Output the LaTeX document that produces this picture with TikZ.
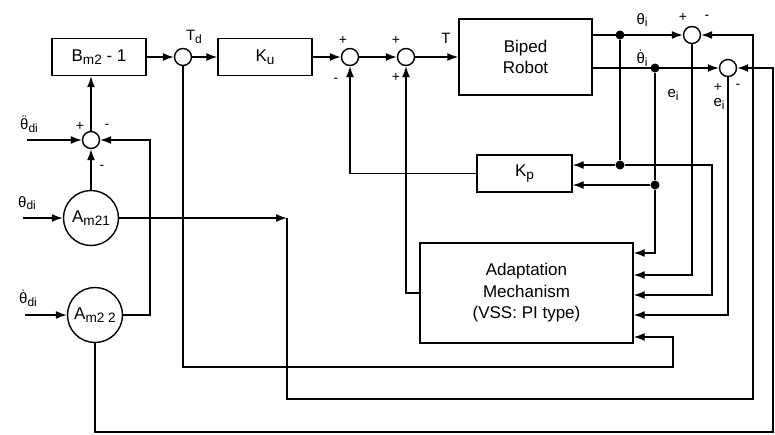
\documentclass[tikz,border=0pt]{standalone}
\usepackage{fontspec}
\setmainfont{Liberation Sans}
\usepackage{amsmath}
\usetikzlibrary{arrows.meta,calc}

\newcommand{\idx}[1]{\raisebox{-0.3ex}{\scalebox{0.8}{#1}}}

\tikzset{
  wire/.style={line width=1.4pt},
  block/.style={draw, line width=1.4pt, inner sep=0pt, minimum height=37pt,
    align=center, font=\fontsize{17}{21.5}\selectfont},
  sum/.style={draw, circle, line width=1.4pt, minimum size=17pt, inner sep=0pt},
  gain/.style={draw, circle, line width=1.4pt, minimum size=55pt, inner sep=0pt,
    font=\fontsize{17}{20}\selectfont},
  junc/.style={circle, fill, minimum size=9pt, inner sep=0pt},
  sig/.style={inner sep=0pt, font=\fontsize{15}{17}\selectfont},
  sign/.style={inner sep=0pt, font=\fontsize{14}{16}\selectfont},
}

\begin{document}
\begin{tikzpicture}[x=1pt, y=-1pt, >={Latex[length=11pt,width=8pt]}]
    \useasboundingbox (0,0) rectangle (775,434);

    % Forward path
    \node[block, minimum width=94pt] (B) at (99,57) {B\idx{m2} - 1};
    \node[sum] (sTd) at (183,57) {};
    \node[block, minimum width=94pt] (Ku) at (265,57) {K\idx{u}};
    \node[sum] (s1) at (350,57) {};
    \node[sum] (s2) at (406,57) {};
    \node[block, minimum width=133pt, minimum height=76pt] (robot) at (525.5,57) {Biped\\Robot};

    % Error junctions
    \node[sum] (s3) at (692,35) {};
    \node[sum] (s4) at (728,68) {};

    % Feedback and adaptation blocks
    \node[block, minimum width=95pt] (Kp) at (524.5,173.5) {K\idx{p}};
    \node[block, minimum width=213pt, minimum height=100pt] (adapt) at (526.5,293)
        {Adaptation\\Mechanism\\(VSS: PI type)};

    % Reference model
    \node[sum] (sA) at (91,140) {};
    \node[gain] (A1) at (91,218) {A\idx{m21}};
    \node[gain] (A2) at (95,315) {A\idx{m2 2}};

    % Branch points
    \node[junc] (j1) at (620,35) {};
    \node[junc] (j2) at (655,68) {};
    \node[junc] (j3) at (620,165) {};
    \node[junc] (j4) at (655,185) {};

    \coordinate (inA) at (27,140);
    \coordinate (in1) at (23,218);
    \coordinate (in2) at (25,315);
    \coordinate (c1) at (287,218);
    \coordinate (c2) at (753,399);
    \coordinate (c3) at (773,432);
    \coordinate (c4) at (673,367);
    \coordinate (c5) at (712,295);
    \coordinate (c6) at (150,140);

    % Reference model wiring
    \draw[wire,->] (inA) -- (sA);
    \draw[wire,->] (in1) -- (A1);
    \draw[wire,->] (in2) -- (A2);
    \draw[wire,->] (A1) -- (sA);
    \draw[wire,->] (A2.east) -| (c6) -- (sA);
    \draw[wire,->] (sA) -- (sA |- B.south);

    % Forward path wiring
    \draw[wire,->] (B) -- (sTd);
    \draw[wire,->] (sTd) -- (Ku);
    \draw[wire,->] (Ku) -- (s1);
    \draw[wire,->] (s1) -- (s2);
    \draw[wire,->] (s2) -- (robot);
    \draw[wire,->] (Kp.west) -| (s1);
    \draw[wire,->] (adapt.west) -| (s2);

    % Robot outputs
    \draw[wire,->] (robot.east |- s3) -- (s3);
    \draw[wire,->] (robot.east |- s4) -- (s4);
    \draw[wire] (j1) -- (j3);
    \draw[wire] (j2) -- (j4);
    \draw[wire,->] (j3) -- (j3 -| Kp.east);
    \draw[wire,->] (j4) -- (j4 -| Kp.east);

    % Inputs of the adaptation mechanism
    \draw[wire,->] (j4) |- ($(adapt.east)+(0,-40)$);
    \draw[wire,->] (s3) |- ($(adapt.east)+(0,-18)$);
    \draw[wire,->] (j3) -| (c5) -- (c5 -| adapt.east);
    \draw[wire,->] (s4) |- ($(adapt.east)+(0,22)$);
    \draw[wire,->] (sTd) |- (c4) |- ($(adapt.east)+(0,44)$);

    % Desired trajectories to the error junctions
    \draw[wire,->] (A1.east) -- (c1);
    \draw[wire,->] (c1) |- (c2) |- (s3);
    \draw[wire,->] (A2) |- (c3) |- (s4);

    % Signal labels
    \node[sig] (lTd) at (194,37) {T\idx{d}};
    \node[sig] (lT) at (446,38) {T};
    \node[sig] (lth) at (642,20) {θ\idx{i}};
    \node[sig] (lthd) at (642,58) {$\dot{\text{θ}}$\idx{i}};
    \node[sig] (le1) at (673,95) {e\idx{i}};
    \node[sig] (le2) at (719,104) {e\idx{i}};
    \node[sig] (lin1) at (29,124) {$\ddot{\text{θ}}$\idx{di}};
    \node[sig] (lin2) at (27,203) {θ\idx{di}};
    \node[sig] (lin3) at (28,298) {$\dot{\text{θ}}$\idx{di}};

    % Signs
    \node[sign] (pA) at (80,126) {+};
    \node[sign] (mA1) at (107,126) {-};
    \node[sign] (mA2) at (102,167) {-};
    \node[sign] (p1) at (343,40) {+};
    \node[sign] (m1) at (336,80) {-};
    \node[sign] (p2a) at (396,40) {+};
    \node[sign] (p2b) at (396,77) {+};
    \node[sign] (p3) at (683,17) {+};
    \node[sign] (m3) at (707,17) {-};
    \node[sign] (p4) at (718,87) {+};
    \node[sign] (m4) at (738,86) {-};
\end{tikzpicture}
\end{document}
